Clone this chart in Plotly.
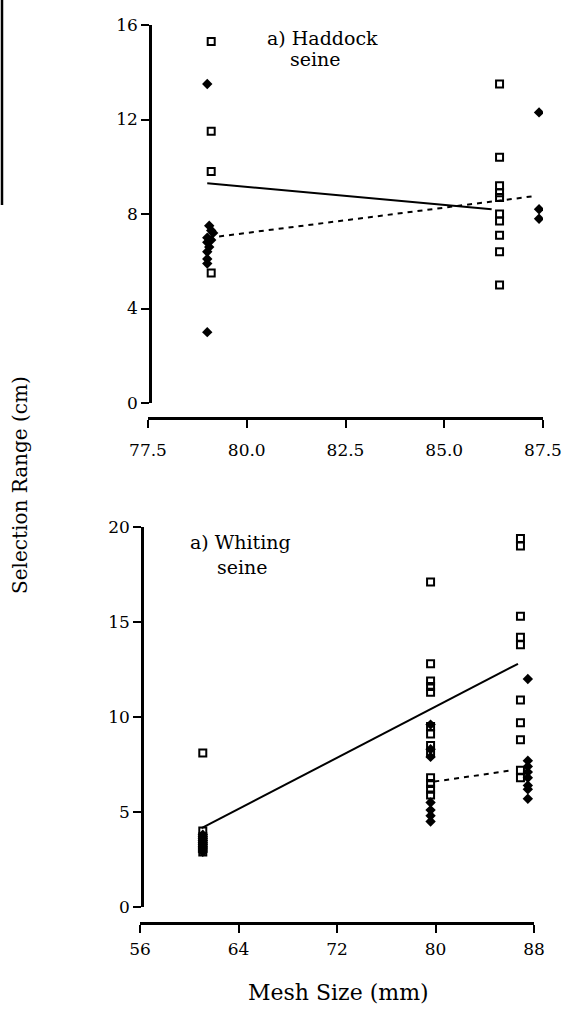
import plotly.graph_objects as go

# ---- Haddock (seine) ----
haddock_sq_x = [79.1, 79.1, 79.1, 79.1,
                86.4, 86.4, 86.4, 86.4, 86.4, 86.4, 86.4, 86.4, 86.4, 86.4]
haddock_sq_y = [15.3, 11.5, 9.8, 5.5,
                13.5, 10.4, 9.2, 8.9, 8.7, 8.0, 7.7, 7.1, 6.4, 5.0]
haddock_dm_x = [79.0, 79.05, 79.1, 79.15, 79.0, 79.1, 79.0, 79.05, 79.0, 79.0, 79.0, 79.0,
                87.4, 87.4, 87.4]
haddock_dm_y = [13.5, 7.5, 7.3, 7.2, 7.0, 6.9, 6.8, 6.6, 6.4, 6.1, 5.9, 3.0,
                12.3, 8.2, 7.8]
haddock_fit_sq_x = [79.0, 86.2]
haddock_fit_sq_y = [9.3, 8.2]
haddock_fit_dm_x = [79.3, 87.25]
haddock_fit_dm_y = [7.05, 8.75]

# ---- Whiting (seine) ----
whiting_sq_x = [61.1] * 7 + [79.6] * 13 + [86.9] * 10
whiting_sq_y = [8.1, 4.0, 3.7, 3.5, 3.3, 3.1, 2.9,
                17.1, 12.8, 11.9, 11.6, 11.3, 9.5, 9.1, 8.5, 8.1, 6.8, 6.5, 6.2, 5.9,
                19.4, 19.0, 15.3, 14.2, 13.8, 10.9, 9.7, 8.8, 7.2, 6.8]
whiting_dm_x = [61.1] * 10 + [79.6] * 7 + [87.5] * 8
whiting_dm_y = [3.8, 3.7, 3.6, 3.5, 3.4, 3.3, 3.2, 3.1, 3.0, 2.9,
                9.6, 8.3, 7.9, 5.5, 5.1, 4.8, 4.5,
                12.0, 7.7, 7.4, 7.1, 6.8, 6.4, 6.2, 5.7]
whiting_fit_sq_x = [61.0, 86.7]
whiting_fit_sq_y = [4.15, 12.8]
whiting_fit_dm_x = [79.9, 86.3]
whiting_fit_dm_y = [6.6, 7.2]

haddock_xticks = [77.5, 80.0, 82.5, 85.0, 87.5]
haddock_xlabels = ["77.5", "80.0", "82.5", "85.0", "87.5"]
haddock_yticks = [0, 4, 8, 12, 16]
whiting_xticks = [56, 64, 72, 80, 88]
whiting_yticks = [0, 5, 10, 15, 20]

W, H = 569, 1019
FONT = "DejaVu Serif"
INK = "black"


def px(x):
    return x / W


def py(y):
    return 1 - y / H


sq_marker = dict(symbol="square-open", size=7, color=INK, line=dict(width=2, color=INK))
dm_marker = dict(symbol="diamond", size=8, color=INK, line=dict(width=0))

fig = go.Figure()

# top panel
fig.add_trace(go.Scatter(x=haddock_sq_x, y=haddock_sq_y, mode="markers",
                         marker=sq_marker, xaxis="x", yaxis="y", showlegend=False))
fig.add_trace(go.Scatter(x=haddock_dm_x, y=haddock_dm_y, mode="markers",
                         marker=dm_marker, xaxis="x", yaxis="y", showlegend=False))
fig.add_trace(go.Scatter(x=haddock_fit_sq_x, y=haddock_fit_sq_y, mode="lines",
                         line=dict(color=INK, width=2), xaxis="x", yaxis="y", showlegend=False))
fig.add_trace(go.Scatter(x=haddock_fit_dm_x, y=haddock_fit_dm_y, mode="lines",
                         line=dict(color=INK, width=2, dash="5px,5px"),
                         xaxis="x", yaxis="y", showlegend=False))

# bottom panel
fig.add_trace(go.Scatter(x=whiting_sq_x, y=whiting_sq_y, mode="markers",
                         marker=sq_marker, xaxis="x2", yaxis="y2", showlegend=False))
fig.add_trace(go.Scatter(x=whiting_dm_x, y=whiting_dm_y, mode="markers",
                         marker=dm_marker, xaxis="x2", yaxis="y2", showlegend=False))
fig.add_trace(go.Scatter(x=whiting_fit_sq_x, y=whiting_fit_sq_y, mode="lines",
                         line=dict(color=INK, width=2), xaxis="x2", yaxis="y2", showlegend=False))
fig.add_trace(go.Scatter(x=whiting_fit_dm_x, y=whiting_fit_dm_y, mode="lines",
                         line=dict(color=INK, width=2, dash="5px,5px"),
                         xaxis="x2", yaxis="y2", showlegend=False))

axis_common = dict(showline=True, linecolor=INK, linewidth=2.5, ticks="outside",
                   ticklen=8, tickwidth=2, tickcolor=INK, showgrid=False, zeroline=False,
                   automargin=False,
                   tickfont=dict(family=FONT, size=17, color=INK))

fig.update_layout(
    width=W, height=H,
    margin=dict(l=0, r=0, t=0, b=0, pad=0, autoexpand=False),
    paper_bgcolor="white", plot_bgcolor="white",
    xaxis=dict(axis_common, domain=[px(148), px(543)], range=[77.5, 87.5],
               tickvals=haddock_xticks, ticktext=haddock_xlabels,
               ticklabelstandoff=8,
               anchor="free", position=py(418)),
    yaxis=dict(axis_common, domain=[py(403), py(25)], range=[0, 16],
               tickvals=haddock_yticks, anchor="free", position=px(150)),
    xaxis2=dict(axis_common, domain=[px(140), px(534)], range=[56, 88],
                tickvals=whiting_xticks, ticklabelstandoff=2,
                anchor="free", position=py(923)),
    yaxis2=dict(axis_common, domain=[py(907), py(527)], range=[0, 20],
                tickvals=whiting_yticks, anchor="free", position=px(142)),
)

label_font = dict(family=FONT, size=19, color=INK)
annotations = [
    dict(text="a) Haddock", x=80.46, y=15.47, xref="x", yref="y",
         xanchor="left", yanchor="middle", showarrow=False, font=label_font),
    dict(text="seine", x=81.04, y=14.58, xref="x", yref="y",
         xanchor="left", yanchor="middle", showarrow=False, font=label_font),
    dict(text="a) Whiting", x=59.9, y=19.2, xref="x2", yref="y2",
         xanchor="left", yanchor="middle", showarrow=False, font=label_font),
    dict(text="seine", x=62.1, y=17.9, xref="x2", yref="y2",
         xanchor="left", yanchor="middle", showarrow=False, font=label_font),
    dict(text="Mesh Size (mm)", x=px(338), y=py(992), xref="paper", yref="paper",
         xanchor="center", yanchor="middle", showarrow=False,
         font=dict(family=FONT, size=22, color=INK)),
    dict(text="Selection Range (cm)", x=px(20), y=py(485), xref="paper", yref="paper",
         xanchor="center", yanchor="middle", showarrow=False, textangle=-90,
         font=dict(family=FONT, size=20, color=INK)),
]
fig.update_layout(annotations=annotations)

# dark edge line along the left margin of the page
fig.add_shape(type="line", xref="paper", yref="paper",
              x0=px(2), x1=px(2), y0=py(0), y1=py(205),
              line=dict(color=INK, width=2.5))

fig.write_html("out.html")
